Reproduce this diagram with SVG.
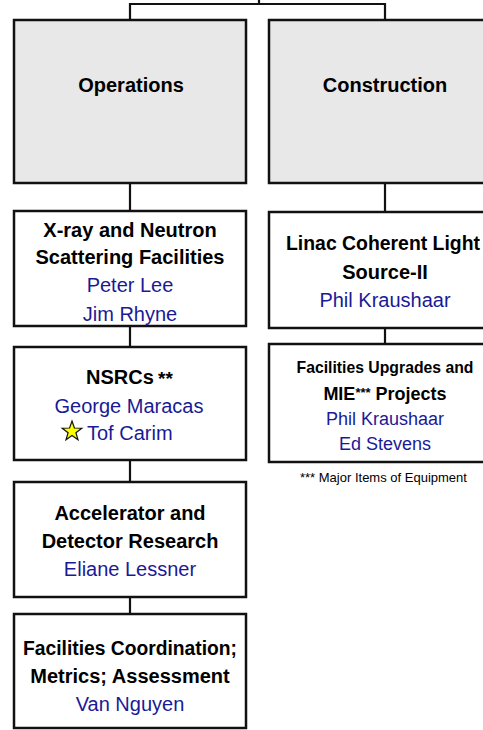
<svg xmlns="http://www.w3.org/2000/svg" width="483" height="730" viewBox="0 0 483 730">
<style>
.box{fill:#ffffff;stroke:#111111;stroke-width:2.5}
.top{fill:#e8e8e8;stroke:#111111;stroke-width:2.5}
.conn{fill:none;stroke:#111111;stroke-width:2.2}
text{font-family:"Liberation Sans",Arial,sans-serif;text-anchor:middle}
.t{font-weight:bold;font-size:20px;fill:#000000}
.n{font-size:20px;fill:#1a1a96}
.t2{font-weight:bold;font-size:18px;fill:#000000}
.n2{font-size:18px;fill:#1a1a96}
.note{font-size:13px;fill:#000000;text-anchor:start}
</style>
<g id="connectors">
<path class="conn" d="M259,0 V4 M130,20 V4 H385 V20"/>
<path class="conn" d="M130,183 V211 M130,326 V347 M130,460 V482 M130,597 V614"/>
<path class="conn" d="M385,183 V212 M385,328 V344"/>
</g>
<g id="operations">
<rect class="top" x="14" y="20" width="232" height="163"/>
<text class="t" x="131" y="92">Operations</text>
</g>
<g id="construction">
<rect class="top" x="269" y="20" width="232" height="163"/>
<text class="t" x="385" y="92">Construction</text>
</g>
<g id="xray">
<rect class="box" x="14" y="211" width="232" height="115"/>
<text class="t" x="130" y="237">X-ray and Neutron</text>
<text class="t" x="130" y="264">Scattering Facilities</text>
<text class="n" x="130" y="292">Peter Lee</text>
<text class="n" x="130" y="321">Jim Rhyne</text>
</g>
<g id="nsrcs">
<rect class="box" x="14" y="347" width="232" height="113"/>
<text class="t" x="86" y="384" style="text-anchor:start">NSRCs</text>
<text x="158" y="385" style="text-anchor:start;font-weight:bold;font-size:19px;fill:#000">**</text>
<text class="n" x="129" y="413" textLength="149" lengthAdjust="spacingAndGlyphs">George Maracas</text>
<polygon points="72,421 74.4,428 81.8,428.2 75.9,432.7 78,439.8 72,435.6 66,439.8 68.1,432.7 62.2,428.2 69.6,428" fill="#ffff00" stroke="#111111" stroke-width="1.2" stroke-linejoin="miter"/>
<text class="n" x="87" y="440" style="text-anchor:start">Tof Carim</text>
</g>
<g id="accelerator">
<rect class="box" x="14" y="482" width="232" height="115"/>
<text class="t" x="130" y="520">Accelerator and</text>
<text class="t" x="130" y="548">Detector Research</text>
<text class="n" x="130" y="576">Eliane Lessner</text>
</g>
<g id="coordination">
<rect class="box" x="14" y="614" width="232" height="114"/>
<text class="t" x="130" y="655" textLength="214" lengthAdjust="spacingAndGlyphs">Facilities Coordination;</text>
<text class="t" x="130" y="683">Metrics; Assessment</text>
<text class="n" x="130" y="711">Van Nguyen</text>
</g>
<g id="lcls">
<rect class="box" x="269" y="212" width="232" height="116"/>
<text x="383" y="250" style="font-weight:bold;font-size:19.3px;fill:#000" textLength="194" lengthAdjust="spacingAndGlyphs">Linac Coherent Light</text>
<text class="t" x="385" y="279">Source-II</text>
<text class="n" x="385" y="307">Phil Kraushaar</text>
</g>
<g id="upgrades">
<rect class="box" x="269" y="344" width="232" height="118"/>
<text x="385" y="373" style="font-weight:bold;font-size:16.5px;fill:#000" textLength="177" lengthAdjust="spacingAndGlyphs">Facilities Upgrades and</text>
<text class="t2" x="385" y="400">MIE<tspan style="font-size:13px" dy="-3">***</tspan><tspan dy="3"> Projects</tspan></text>
<text class="n2" x="385" y="425">Phil Kraushaar</text>
<text class="n2" x="385" y="450">Ed Stevens</text>
</g>
<g id="footnote">
<text class="note" x="300" y="482">*** Major Items of Equipment</text>
</g>
</svg>
